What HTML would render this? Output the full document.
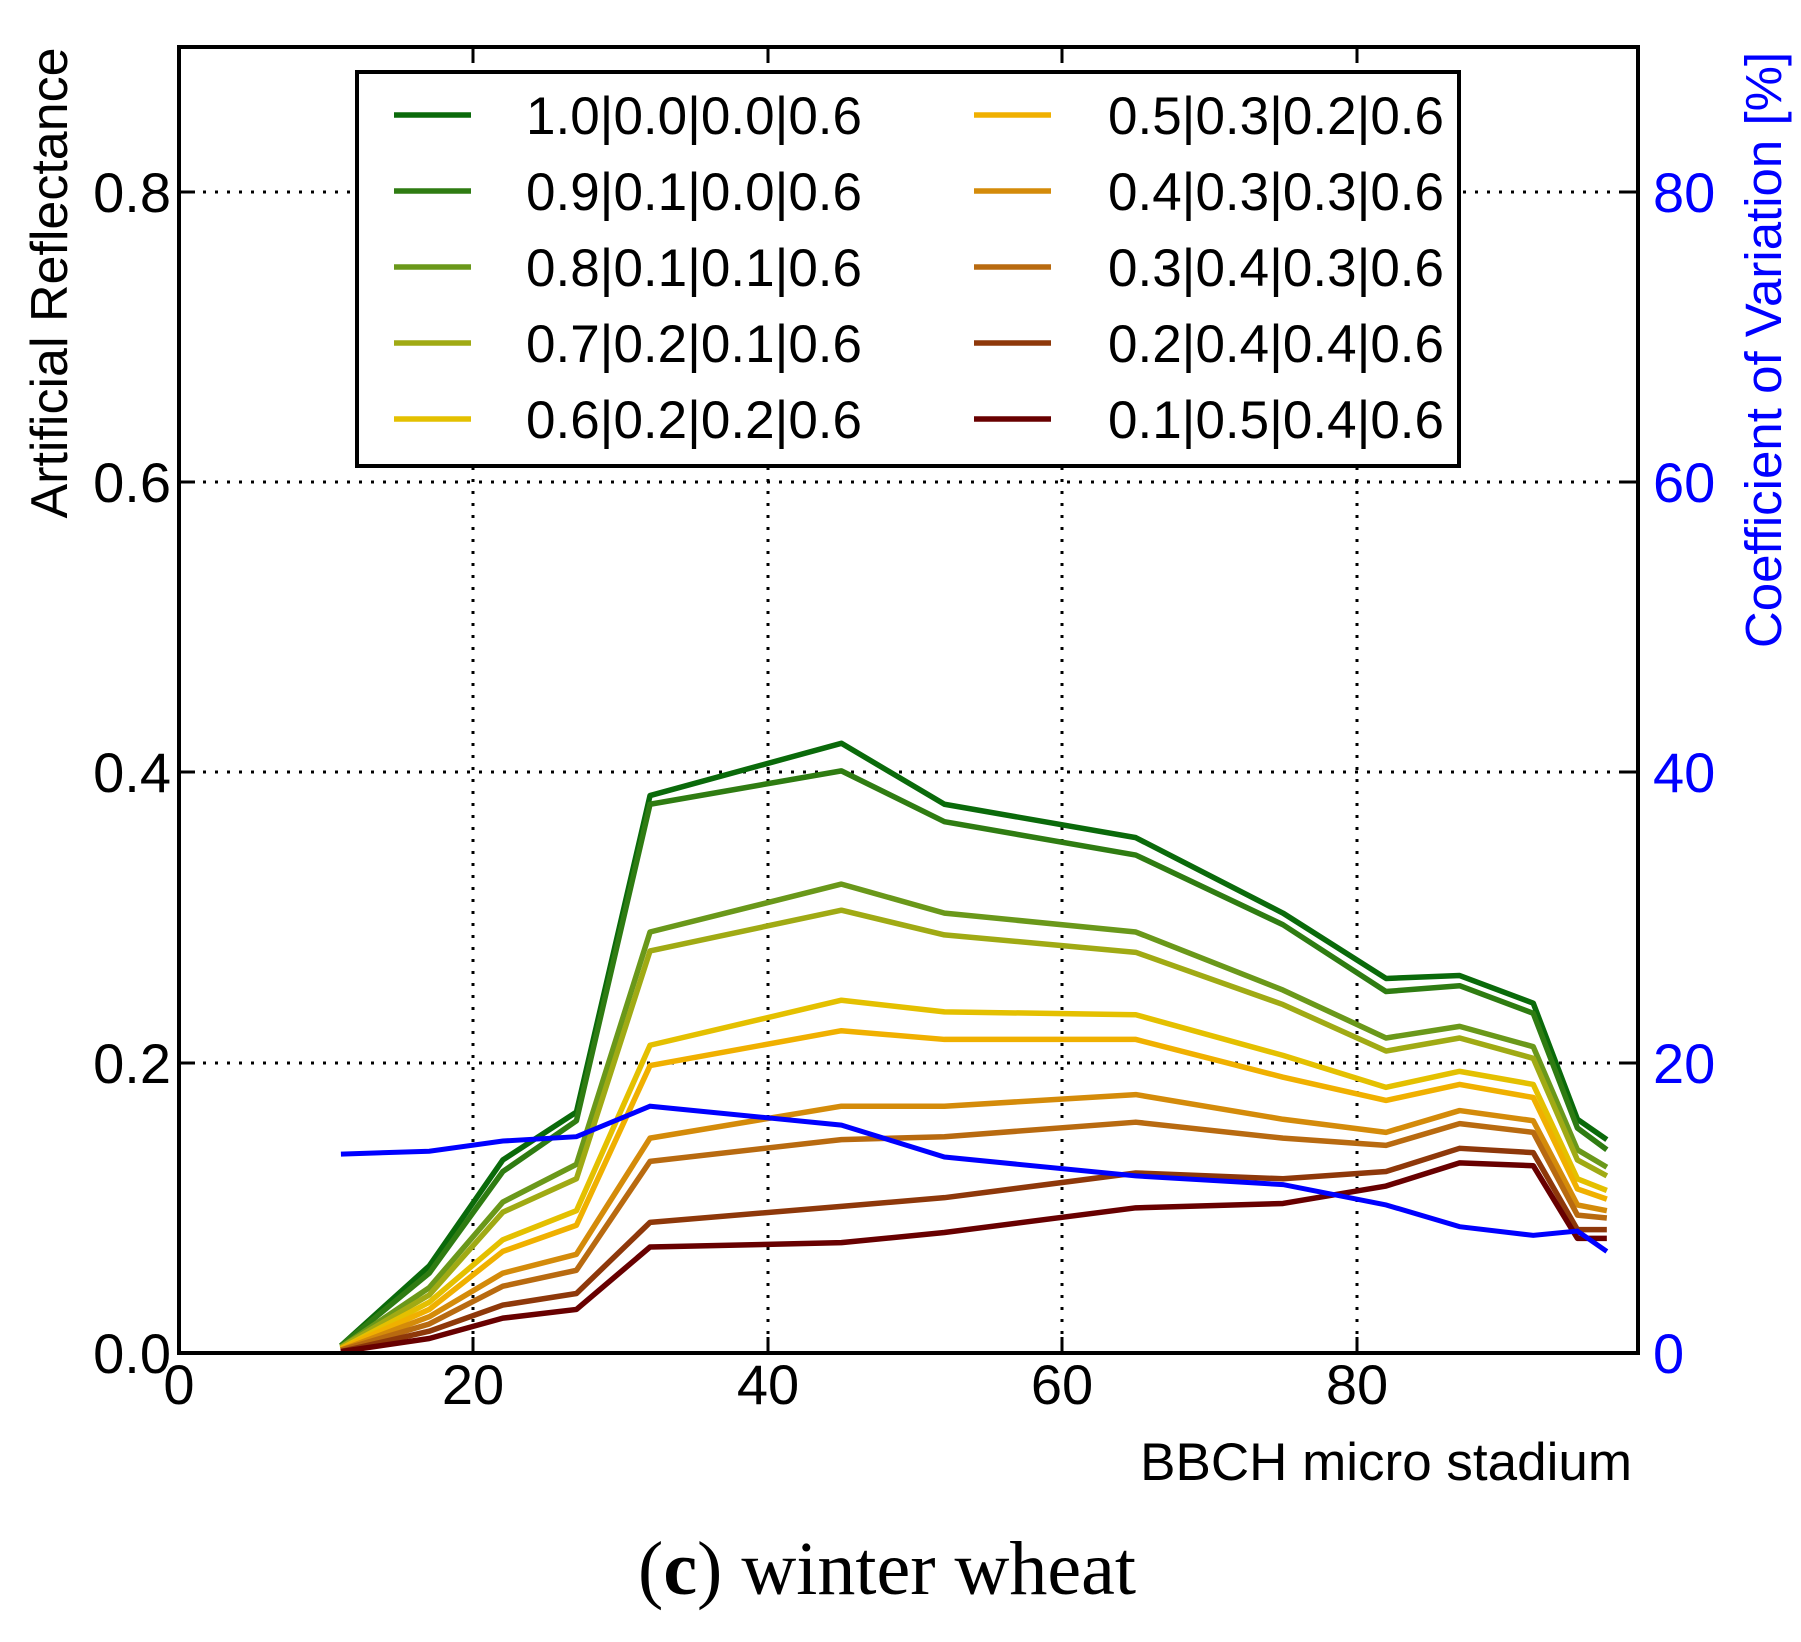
<!DOCTYPE html>
<html><head><meta charset="utf-8"><style>body{margin:0;background:#fff}svg{display:block}</style></head>
<body>
<svg width="1801" height="1642" viewBox="0 0 1801 1642" xmlns="http://www.w3.org/2000/svg" font-family="Liberation Sans, sans-serif">
<g id="grid" stroke="#000" stroke-width="3" stroke-dasharray="3,9">
<line x1="473" y1="47" x2="473" y2="1353"/><line x1="768" y1="47" x2="768" y2="1353"/>
<line x1="1062" y1="47" x2="1062" y2="1353"/><line x1="1357" y1="47" x2="1357" y2="1353"/>
<line x1="179" y1="1063" x2="1638" y2="1063"/><line x1="179" y1="772" x2="1638" y2="772"/>
<line x1="179" y1="482" x2="1638" y2="482"/><line x1="179" y1="192" x2="1638" y2="192"/>
</g>
<g stroke="#000" stroke-width="3">
<line x1="473" y1="1353" x2="473" y2="1337"/><line x1="768" y1="1353" x2="768" y2="1337"/><line x1="1062" y1="1353" x2="1062" y2="1337"/><line x1="1357" y1="1353" x2="1357" y2="1337"/>
<line x1="473" y1="47" x2="473" y2="63"/><line x1="768" y1="47" x2="768" y2="63"/><line x1="1062" y1="47" x2="1062" y2="63"/><line x1="1357" y1="47" x2="1357" y2="63"/>
<line x1="179" y1="1063" x2="195" y2="1063"/><line x1="179" y1="772" x2="195" y2="772"/><line x1="179" y1="482" x2="195" y2="482"/><line x1="179" y1="192" x2="195" y2="192"/>
<line x1="1638" y1="1063" x2="1622" y2="1063"/><line x1="1638" y1="772" x2="1622" y2="772"/><line x1="1638" y1="482" x2="1622" y2="482"/><line x1="1638" y1="192" x2="1622" y2="192"/>
</g>
<g fill="none" stroke-width="5.5" stroke-linejoin="round" id="series"></g>
<polyline fill="none" stroke="#0000ff" stroke-width="5" points=""/>
<rect x="179" y="47" width="1459" height="1306" fill="none" stroke="#000" stroke-width="4"/>
<rect x="357" y="72" width="1102" height="394" fill="#fff" stroke="#000" stroke-width="4"/>
<g id="legend" font-size="53"></g>
<g font-size="56" text-anchor="end">
<text x="171" y="1373">0.0</text><text x="171" y="1083">0.2</text><text x="171" y="792">0.4</text><text x="171" y="502">0.6</text><text x="171" y="212">0.8</text>
</g>
<g font-size="56" text-anchor="middle">
<text x="179" y="1404">0</text><text x="473" y="1404">20</text><text x="768" y="1404">40</text><text x="1062" y="1404">60</text><text x="1357" y="1404">80</text>
</g>
<g font-size="56" fill="#0000ff">
<text x="1653" y="1373">0</text><text x="1653" y="1083">20</text><text x="1653" y="792">40</text><text x="1653" y="502">60</text><text x="1653" y="212">80</text>
</g>
<text x="1632" y="1480" font-size="53" text-anchor="end">BBCH micro stadium</text>
<text transform="translate(67,283) rotate(-90)" font-size="52" text-anchor="middle">Artificial Reflectance</text>
<text transform="translate(1781,350) rotate(-90)" font-size="51" text-anchor="middle" fill="#0000ff">Coefficient of Variation [%]</text>
<text x="887" y="1594" font-size="76" text-anchor="middle" font-family="Liberation Serif, serif">(<tspan font-weight="bold">c</tspan>) winter wheat</text>
<script>
var xs=[11,17,22,27,32,45,52,65,75,82,87,92,95,97];
var S=[
["#0a6a0a","1.0|0.0|0.0|0.6",[0.005,0.06,0.133,0.166,0.384,0.42,0.378,0.355,0.303,0.258,0.26,0.241,0.161,0.147]],
["#2f7c12","0.9|0.1|0.0|0.6",[0.005,0.055,0.125,0.16,0.378,0.401,0.366,0.343,0.295,0.249,0.253,0.234,0.155,0.14]],
["#6a981a","0.8|0.1|0.1|0.6",[0.004,0.045,0.104,0.13,0.29,0.323,0.303,0.29,0.25,0.217,0.225,0.211,0.14,0.128]],
["#a0aa14","0.7|0.2|0.1|0.6",[0.004,0.04,0.097,0.12,0.277,0.305,0.288,0.276,0.24,0.208,0.217,0.203,0.133,0.122]],
["#e4c000","0.6|0.2|0.2|0.6",[0.003,0.035,0.078,0.098,0.212,0.243,0.235,0.233,0.205,0.183,0.194,0.185,0.12,0.112]],
["#f0b000","0.5|0.3|0.2|0.6",[0.003,0.03,0.07,0.088,0.198,0.222,0.216,0.216,0.19,0.174,0.185,0.176,0.113,0.106]],
["#d48b0a","0.4|0.3|0.3|0.6",[0.002,0.025,0.055,0.068,0.148,0.17,0.17,0.178,0.161,0.152,0.167,0.16,0.102,0.098]],
["#b86a10","0.3|0.4|0.3|0.6",[0.002,0.02,0.046,0.057,0.132,0.147,0.149,0.159,0.148,0.143,0.158,0.152,0.095,0.093]],
["#8e380a","0.2|0.4|0.4|0.6",[0.001,0.015,0.033,0.041,0.09,0.101,0.107,0.124,0.12,0.125,0.141,0.138,0.085,0.085]],
["#680000","0.1|0.5|0.4|0.6",[0.001,0.01,0.024,0.03,0.073,0.076,0.083,0.1,0.103,0.115,0.131,0.129,0.079,0.079]]];
function X(x){return 179+14.72*x}function Y(v){return 1353-1451.7*v}
var ns="http://www.w3.org/2000/svg",g=document.getElementById("series"),L=document.getElementById("legend");
S.forEach(function(s,i){var p=document.createElementNS(ns,"polyline");p.setAttribute("points",xs.map(function(x,j){return X(x)+","+Y(s[2][j])}).join(" "));p.setAttribute("stroke",s[0]);g.appendChild(p);
var c=i<5?0:1,r=i%5,y=115+r*76,lx=c?974:394,tx=c?1108:526;
var l=document.createElementNS(ns,"line");l.setAttribute("x1",lx);l.setAttribute("x2",lx+77);l.setAttribute("y1",y);l.setAttribute("y2",y);l.setAttribute("stroke",s[0]);l.setAttribute("stroke-width",5.5);L.appendChild(l);
var t=document.createElementNS(ns,"text");t.setAttribute("x",tx);t.setAttribute("y",y+19);t.textContent=s[1];L.appendChild(t);});
var cv=[13.7,13.9,14.6,14.9,17.0,15.7,13.5,12.2,11.6,10.2,8.7,8.1,8.4,7.0];
document.querySelector("polyline[stroke='#0000ff']").setAttribute("points",xs.map(function(x,j){return X(x)+","+Y(cv[j]/100)}).join(" "));
</script>
</svg>
</body></html>
